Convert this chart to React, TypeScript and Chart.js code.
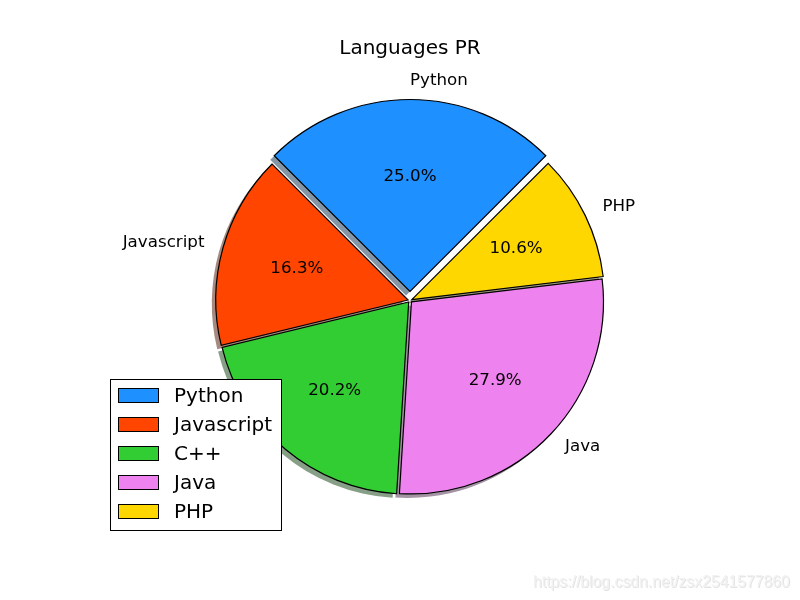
import React, { useEffect, useRef } from 'react';
import { Chart, registerables } from 'chart.js';

Chart.register(...registerables);

const categories = ['Python', 'Javascript', 'C++', 'Java', 'PHP'];
const shares = [25.0, 16.3, 20.2, 27.9, 10.6];
const sliceColors = ['#1E90FF', '#FF4500', '#32CD32', '#EE82EE', '#FFD700'];
const explodeOffsets = [36, 8, 8, 8, 8];
const chartTitle = 'Languages PR';
const watermark = 'https://blog.csdn.net/zsx2541577860';

const FONT = '"DejaVu Sans", sans-serif';

function hexToRgb(h: string) {
  const n = parseInt(h.slice(1), 16);
  return [(n >> 16) & 255, (n >> 8) & 255, n & 255];
}

// order drawn clockwise by Chart.js: reverse to mimic matplotlib counter-clockwise
const order = categories.map((_, i) => categories.length - 1 - i);

function arcGeom(el: any) {
  const p = el.getProps(['x', 'y', 'startAngle', 'endAngle', 'outerRadius', 'circumference'], true);
  const off = (el.options.offset || 0) / 4;
  const mid = (p.startAngle + p.endAngle) / 2;
  const fix = 1 - Math.sin(Math.min(Math.PI, p.circumference || 0));
  const t = off + off * fix;
  return {
    cx: p.x + Math.cos(mid) * t,
    cy: p.y + Math.sin(mid) * t,
    mid,
    r: p.outerRadius,
    start: p.startAngle,
    end: p.endAngle,
  };
}

const piePlugin = {
  id: 'piePlugin',
  beforeDatasetsDraw(chart: any) {
    const ctx = chart.ctx;
    const meta = chart.getDatasetMeta(0);
    meta.data.forEach((el: any, j: number) => {
      const i = order[j];
      const g = arcGeom(el);
      const [r, gg, b] = hexToRgb(sliceColors[i]);
      const c = `rgba(${Math.round(r * 0.3)},${Math.round(gg * 0.3)},${Math.round(b * 0.3)},0.5)`;
      ctx.save();
      ctx.translate(-4, 4);
      ctx.beginPath();
      ctx.moveTo(g.cx, g.cy);
      ctx.arc(g.cx, g.cy, g.r, g.start, g.end);
      ctx.closePath();
      ctx.fillStyle = c;
      ctx.fill();
      ctx.restore();
    });
  },
  afterDatasetsDraw(chart: any) {
    const ctx = chart.ctx;
    const meta = chart.getDatasetMeta(0);
    const total = shares.reduce((a, b) => a + b, 0);
    ctx.save();
    ctx.fillStyle = '#000';
    ctx.textBaseline = 'middle';
    meta.data.forEach((el: any, j: number) => {
      const i = order[j];
      const g = arcGeom(el);
      const cos = Math.cos(g.mid);
      const sin = Math.sin(g.mid);
      ctx.font = `16.7px ${FONT}`;
      // outer label
      ctx.textAlign = cos > -1e-6 ? 'left' : 'right';
      ctx.fillText(categories[i], g.cx + cos * g.r * 1.1, g.cy + sin * g.r * 1.1);
      // percent
      ctx.textAlign = 'center';
      const pct = ((shares[i] / total) * 100).toFixed(1) + '%';
      ctx.fillText(pct, g.cx + cos * g.r * 0.6, g.cy + sin * g.r * 0.6);
    });
    ctx.restore();
  },
  afterDraw(chart: any) {
    const ctx = chart.ctx;
    ctx.save();
    // title
    ctx.fillStyle = '#000';
    ctx.font = `20px ${FONT}`;
    ctx.textAlign = 'center';
    ctx.textBaseline = 'middle';
    ctx.fillText(chartTitle, 410, 48.5);

    // legend
    const bx = 110.5, by = 379.5, bw = 171, bh = 151;
    ctx.fillStyle = '#fff';
    ctx.fillRect(bx, by, bw, bh);
    ctx.strokeStyle = '#000';
    ctx.lineWidth = 1;
    ctx.strokeRect(bx, by, bw, bh);
    ctx.font = `20px ${FONT}`;
    ctx.textAlign = 'left';
    categories.forEach((name, i) => {
      const yc = 395.5 + i * 29;
      ctx.fillStyle = sliceColors[i];
      ctx.fillRect(118.5, yc - 7, 40, 14);
      ctx.strokeStyle = '#000';
      ctx.strokeRect(118.5, yc - 7, 40, 14);
      ctx.fillStyle = '#000';
      ctx.fillText(name, 174, yc + 1);
    });

    // watermark
    ctx.font = `16px "Liberation Sans", sans-serif`;
    const w = ctx.measureText(watermark).width;
    const size = (16 * 257) / w;
    ctx.font = `${size}px "Liberation Sans", sans-serif`;
    ctx.textAlign = 'left';
    ctx.textBaseline = 'alphabetic';
    ctx.fillStyle = 'rgba(200,200,200,0.5)';
    ctx.fillText(watermark, 534, 588);
    ctx.fillStyle = 'rgba(242,242,242,1)';
    ctx.fillText(watermark, 533, 587);
    ctx.restore();
  },
};

export default function App() {
  const ref = useRef<HTMLCanvasElement>(null);
  useEffect(() => {
    if (!ref.current) return;
    const chart = new Chart(ref.current, {
      type: 'pie',
      data: {
        labels: order.map((i) => categories[i]),
        datasets: [
          {
            data: order.map((i) => shares[i]),
            backgroundColor: order.map((i) => sliceColors[i]),
            borderColor: '#000',
            borderWidth: 1.2,
            borderJoinStyle: 'miter',
            offset: order.map((i) => explodeOffsets[i]),
          } as any,
        ],
      },
      options: {
        animation: false,
        responsive: false,
        rotation: 45,
        radius: 192,
        layout: { padding: { left: 20, right: 0, top: 1, bottom: 0 } },
        plugins: {
          legend: { display: false },
          title: { display: false },
          tooltip: { enabled: false },
        },
        events: [],
      } as any,
      plugins: [piePlugin],
    });
    return () => chart.destroy();
  }, []);
  return (
    <div style={{ position: 'absolute', left: 0, top: 0, width: 800, height: 600, background: '#fff' }}>
      <canvas ref={ref} width={800} height={600} style={{ display: 'block' }} />
    </div>
  );
}
